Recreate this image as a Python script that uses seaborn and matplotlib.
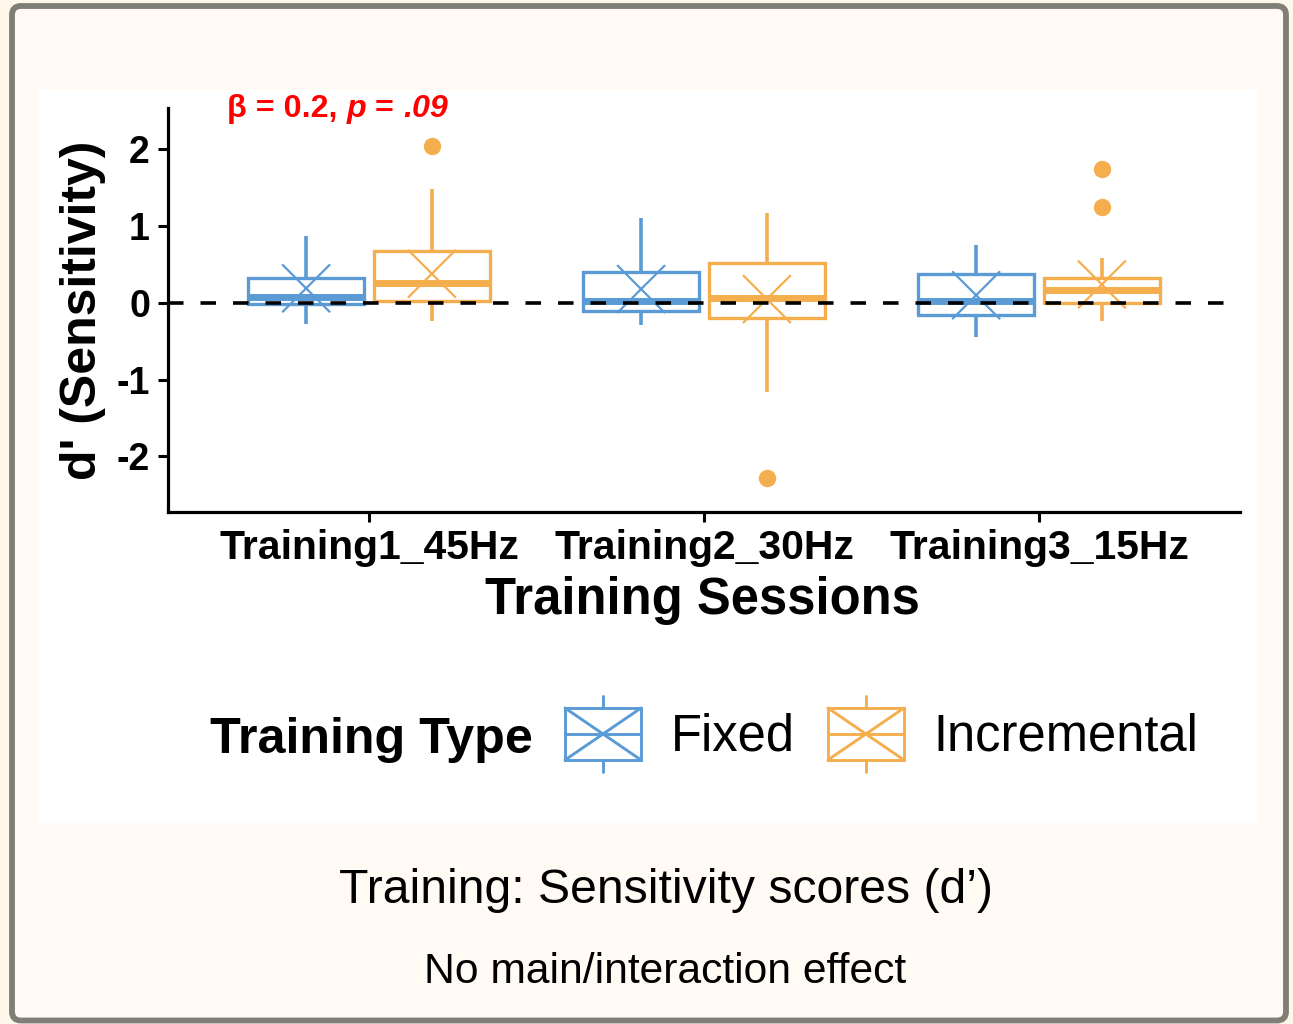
import matplotlib
matplotlib.use("Agg")
import numpy as np
import pandas as pd
import seaborn as sns
import matplotlib.pyplot as plt
from matplotlib.patches import Rectangle, FancyBboxPatch, Patch
from matplotlib.lines import Line2D
from matplotlib.legend_handler import HandlerBase
from matplotlib.transforms import IdentityTransform

# ---- data: d' summary statistics per training session and training type ----
sessions = ["Training1_45Hz", "Training2_30Hz", "Training3_15Hz"]
types = ["Fixed", "Incremental"]

fixed_whislo = [-0.28, -0.29, -0.45]
fixed_q1 = [-0.01, -0.11, -0.16]
fixed_med = [0.08, 0.03, 0.02]
fixed_q3 = [0.32, 0.40, 0.38]
fixed_whishi = [0.87, 1.10, 0.76]
fixed_mean = [0.19, 0.18, 0.10]
fixed_outliers = [[], [], []]

inc_whislo = [-0.24, -1.16, -0.24]
inc_q1 = [0.02, -0.20, 0.00]
inc_med = [0.26, 0.07, 0.17]
inc_q3 = [0.67, 0.52, 0.32]
inc_whishi = [1.48, 1.17, 0.58]
inc_mean = [0.38, 0.05, 0.24]
inc_outliers = [[2.04], [-2.28], [1.25, 1.74]]

y_ticks = [-2, -1, 0, 1, 2]
colors = {"Fixed": "#5B9BD5", "Incremental": "#F5AE4E"}

# ---- figure ----
W, H = 1293, 1024
sns.set_theme(style="ticks")
plt.rcParams["font.family"] = ["Liberation Sans", "DejaVu Sans"]
plt.rcParams["text.color"] = "black"

fig = plt.figure(figsize=(W / 100, H / 100), dpi=100)
fig.patch.set_facecolor("#FFF8EA")

# rounded card with grey border
card = FancyBboxPatch((12, 3.5), 1274, 1014.5,
                      boxstyle="round,pad=0,rounding_size=9",
                      transform=IdentityTransform(),
                      facecolor="#FFFBF4", edgecolor="#7F7F78", linewidth=4.2,
                      zorder=-3)
fig.add_artist(card)
# white plot panel
panel = Rectangle((38, 201), 1220, 733, transform=IdentityTransform(),
                  facecolor="white", edgecolor="none", zorder=-2)
fig.add_artist(panel)

ax = fig.add_axes([168 / W, 512 / H, (1240 - 168) / W, (1024 - 108 - 512) / H])
ax.set_facecolor("none")
ax.set_zorder(1)

offsets = {"Fixed": -0.1877, "Incremental": 0.1877}
box_w = 0.345

groups = {
    "Fixed": (fixed_whislo, fixed_q1, fixed_med, fixed_q3, fixed_whishi, fixed_mean, fixed_outliers),
    "Incremental": (inc_whislo, inc_q1, inc_med, inc_q3, inc_whishi, inc_mean, inc_outliers),
}

rows = []
for t in types:
    wlo, q1, med, q3, whi, mean, outl = groups[t]
    c = colors[t]
    stats = []
    for i in range(len(sessions)):
        stats.append(dict(whislo=wlo[i], q1=q1[i], med=med[i], q3=q3[i],
                          whishi=whi[i], fliers=np.array(outl[i]), label=sessions[i]))
        rows.append(dict(session=sessions[i], type=t, pos=i + offsets[t], mean=mean[i]))
    ax.bxp(stats, positions=[i + offsets[t] for i in range(len(sessions))],
           widths=box_w, showcaps=False, manage_ticks=False, patch_artist=False,
           boxprops=dict(color=c, linewidth=2.4, solid_joinstyle="miter"),
           medianprops=dict(color=c, linewidth=5.0, solid_capstyle="butt"),
           whiskerprops=dict(color=c, linewidth=2.6, solid_capstyle="butt"),
           flierprops=dict(marker="o", markerfacecolor=c, markeredgecolor=c,
                           markersize=11.5, linestyle="none"),
           zorder=2)

means_df = pd.DataFrame(rows)
sns.scatterplot(data=means_df, x="pos", y="mean", hue="type", palette=colors,
                marker="x", s=1190, linewidth=1.6, legend=False, ax=ax, zorder=3)

ax.axhline(0, color="black", linewidth=2.6, linestyle=(0, (4.3, 4.7)), zorder=4)

ax.set_xlim(-0.6, 2.6)
ax.set_ylim(-2.725, 2.54)
ax.set_xticks(range(len(sessions)))
ax.set_xticklabels(sessions)
ax.set_yticks(y_ticks)
ax.set_yticklabels([str(v) for v in y_ticks])

for s in ["top", "right"]:
    ax.spines[s].set_visible(False)
for s in ["left", "bottom"]:
    ax.spines[s].set_linewidth(2.3)
    ax.spines[s].set_color("black")

ax.tick_params(axis="both", length=7, width=2.2, color="black", labelcolor="black")
ax.tick_params(axis="x", labelsize=29.4, pad=5.5)
ax.tick_params(axis="y", labelsize=27, pad=6)
for lab in ax.get_xticklabels() + ax.get_yticklabels():
    lab.set_fontweight("bold")

ax.set_xlabel("Training Sessions", fontsize=36.5, fontweight="bold", color="black")
ax.xaxis.label.set_va("baseline")
ax.xaxis.set_label_coords(0.499, -0.252)
ax.set_ylabel("d' (Sensitivity)", fontsize=36, fontweight="bold", color="black")
ax.yaxis.label.set_va("center")
ax.yaxis.set_label_coords(-0.0793, 0.5)

# statistic annotation: bold, with italic p and p-value
ann_kw = dict(color="red", fontsize=23.2, fontweight="bold", annotation_clip=False)
t1 = ax.text(-0.4234, 2.417, "\u03b2 = 0.2, ", color="red", fontsize=23.2,
             fontweight="bold", va="baseline", ha="left", clip_on=False)
t2 = ax.annotate("p", xy=(1, 0), xycoords=t1, va="bottom", ha="left",
                 fontstyle="italic", **ann_kw)
t3 = ax.annotate(" = ", xy=(1, 0), xycoords=t2, va="bottom", ha="left", **ann_kw)
t4 = ax.annotate(".09", xy=(1, 0), xycoords=t3, va="bottom", ha="left",
                 fontstyle="italic", **ann_kw)


# legend glyph: box with median, whiskers and a cross for the mean
class BoxCrossHandler(HandlerBase):
    def create_artists(self, legend, orig_handle, xdescent, ydescent,
                       width, height, fontsize, trans):
        c = orig_handle.get_edgecolor()
        lw = 2.1
        x0, y0 = -xdescent, -ydescent
        bh = 0.684 * height
        by = y0 + (height - bh) / 2
        xm = x0 + width / 2
        ym = y0 + height / 2
        arts = [
            Rectangle((x0, by), width, bh, fill=False, edgecolor=c, linewidth=lw,
                      transform=trans),
            Line2D([x0, x0 + width], [ym, ym], color=c, lw=lw, transform=trans),
            Line2D([xm, xm], [by + bh, y0 + height], color=c, lw=lw, transform=trans),
            Line2D([xm, xm], [y0, by], color=c, lw=lw, transform=trans),
            Line2D([x0, x0 + width], [by, by + bh], color=c, lw=lw, transform=trans),
            Line2D([x0, x0 + width], [by + bh, by], color=c, lw=lw, transform=trans),
        ]
        return arts


leg_fs = 36.5
handles = [Patch(facecolor="none", edgecolor=colors[t], label=t) for t in types]
leg = fig.legend(handles=handles, handler_map={Patch: BoxCrossHandler()},
                 loc="center left", bbox_to_anchor=(565 / W, (1024 - 734) / H),
                 ncol=2, frameon=False, fontsize=leg_fs, handlelength=1.50,
                 handleheight=1.93, handletextpad=0.58, columnspacing=0.66,
                 borderpad=0, borderaxespad=0)
for txt in leg.get_texts():
    txt.set_color("black")
fig.text(210 / W, (1024 - 753) / H, "Training Type", fontsize=36.2, fontweight="bold",
         ha="left", va="baseline", color="black")

# caption
fig.text(666 / W, (1024 - 903) / H, "Training: Sensitivity scores (d\u2019)",
         fontsize=34.7, ha="center", va="baseline", color="black")
fig.text(665 / W, (1024 - 983) / H, "No main/interaction effect",
         fontsize=30.7, ha="center", va="baseline", color="black")

fig.savefig("out.png", dpi=100, facecolor=fig.get_facecolor())
